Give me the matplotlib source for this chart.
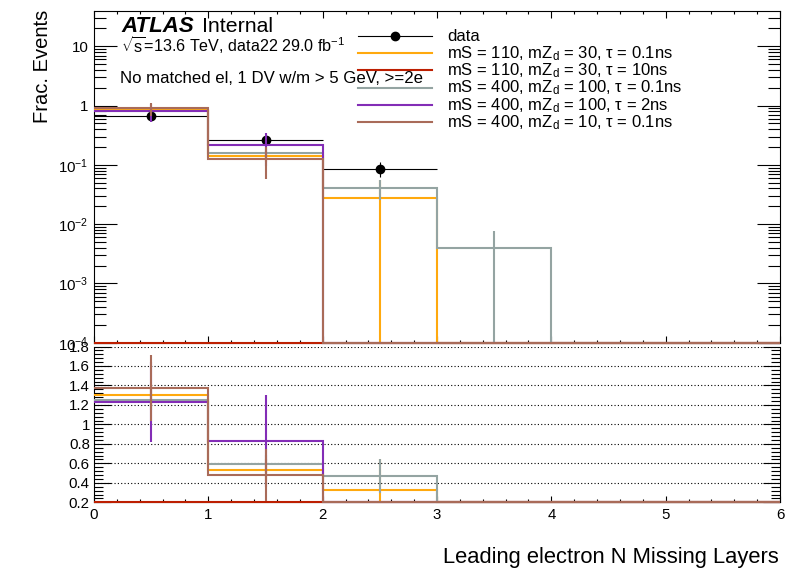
import numpy as np
import matplotlib
matplotlib.use('Agg')
import matplotlib.pyplot as plt
from matplotlib.ticker import FixedLocator, NullFormatter, MultipleLocator, FuncFormatter
from matplotlib.lines import Line2D

plt.rcParams['font.family'] = ['Liberation Sans', 'DejaVu Sans']
plt.rcParams['mathtext.fontset'] = 'custom'
plt.rcParams['mathtext.rm'] = 'Liberation Sans'
plt.rcParams['mathtext.it'] = 'Liberation Sans:italic'
plt.rcParams['mathtext.bf'] = 'Liberation Sans:bold'

# ---------------- data ----------------
bin_edges = [0, 1, 2, 3, 4, 5, 6]
data_vals = [0.655, 0.265, 0.0865, 0.0, 0.0, 0.0]
data_errs = [0.064, 0.041, 0.0235, 0.0, 0.0, 0.0]

sig_labels = [
    r'mS = 110, mZ$_\mathrm{d}$ = 30, τ = 0.1ns',
    r'mS = 110, mZ$_\mathrm{d}$ = 30, τ = 10ns',
    r'mS = 400, mZ$_\mathrm{d}$ = 100, τ = 0.1ns',
    r'mS = 400, mZ$_\mathrm{d}$ = 100, τ = 2ns',
    r'mS = 400, mZ$_\mathrm{d}$ = 10, τ = 0.1ns',
]
sig_colors = ['#ffa90e', '#bd1f01', '#94a4a2', '#832db6', '#a96b59']

s110_30_01_vals = [0.85, 0.14, 0.028, 0.0, 0.0, 0.0]
s110_30_01_errs = [0.08, 0.03, 0.028, 0.0, 0.0, 0.0]
s110_30_10_vals = [0.0, 0.0, 0.0, 0.0, 0.0, 0.0]
s110_30_10_errs = [0.0, 0.0, 0.0, 0.0, 0.0, 0.0]
s400_100_01_vals = [0.822, 0.157, 0.0405, 0.0039, 0.0, 0.0]
s400_100_01_errs = [0.07, 0.025, 0.015, 0.0039, 0.0, 0.0]
s400_100_2_vals = [0.805, 0.22, 0.0, 0.0, 0.0, 0.0]
s400_100_2_errs = [0.27, 0.126, 0.0, 0.0, 0.0, 0.0]
s400_10_01_vals = [0.9, 0.127, 0.0, 0.0, 0.0, 0.0]
s400_10_01_errs = [0.22, 0.07, 0.0, 0.0, 0.0, 0.0]

sig_vals = [s110_30_01_vals, s110_30_10_vals, s400_100_01_vals, s400_100_2_vals, s400_10_01_vals]
sig_errs = [s110_30_01_errs, s110_30_10_errs, s400_100_01_errs, s400_100_2_errs, s400_10_01_errs]

upper_yticks = [1e-4, 1e-3, 1e-2, 1e-1, 1, 10]
upper_yticklabels = [r'10$^{-4}$', r'10$^{-3}$', r'10$^{-2}$', r'10$^{-1}$', '1', '10']

# ---------------- layout ----------------
W, H = 796, 572
fig = plt.figure(figsize=(W / 100, H / 100), dpi=100)

def fx(px):
    return px / W

def fy(py):
    return 1 - py / H

left, right = 94, 780
up_top, up_bot = 11.3, 342.7
lo_top, lo_bot = 346.5, 502.3

ax = fig.add_axes([fx(left), fy(up_bot), fx(right - left), (up_bot - up_top) / H])
ax2 = fig.add_axes([fx(left), fy(lo_bot), fx(right - left), (lo_bot - lo_top) / H])

edges = np.array(bin_edges, dtype=float)
centers = 0.5 * (edges[:-1] + edges[1:])
halfw = 0.5 * (edges[1:] - edges[:-1])
dv = np.array(data_vals)
de = np.array(data_errs)

ymin, ymax = 1e-4, 39.0
rmin, rmax = 0.2, 1.8
lw_h = 1.5

# ---------------- upper panel ----------------
m = dv > 0
ax.errorbar(centers[m], dv[m], xerr=halfw[m], yerr=de[m], fmt='o', color='black',
            markersize=6, elinewidth=0.8, capsize=0, zorder=2)

for k, (vals, errs, col) in enumerate(zip(sig_vals, sig_errs, sig_colors)):
    v = np.array(vals)
    e = np.array(errs)
    ax.stairs(np.maximum(v, ymin), edges, color=col, linewidth=lw_h, baseline=None,
              zorder=3 + k, clip_on=False)
    mm = (v > 0) & (e > 0)
    if mm.any():
        ax.vlines(centers[mm], np.maximum(v[mm] - e[mm], ymin), v[mm] + e[mm],
                  color=col, linewidth=lw_h, zorder=3 + k)

ax.set_yscale('log')
ax.set_xlim(0, 6)
ax.set_ylim(ymin, ymax)
ax.yaxis.set_major_locator(FixedLocator(upper_yticks))
ax.set_yticklabels(upper_yticklabels)
minors = [s * 10.0 ** p for p in range(-4, 2) for s in range(2, 10) if s * 10.0 ** p < ymax]
ax.yaxis.set_minor_locator(FixedLocator(minors))
ax.yaxis.set_minor_formatter(NullFormatter())
ax.xaxis.set_major_locator(MultipleLocator(1))
ax.xaxis.set_minor_locator(MultipleLocator(0.2))
ax.xaxis.set_major_formatter(NullFormatter())
ax.tick_params(which='both', direction='in', top=True, right=True, width=0.8)
ax.tick_params(axis='y', which='major', length=16.5, labelsize=10.8, pad=4)
ax.tick_params(axis='y', which='minor', length=8.6)
ax.tick_params(axis='x', which='major', length=5)
ax.tick_params(axis='x', which='minor', length=2.5)
for sp in ax.spines.values():
    sp.set_linewidth(0.8)

# ---------------- ratio panel ----------------
for k, (vals, errs, col) in enumerate(zip(sig_vals, sig_errs, sig_colors)):
    v = np.array(vals)
    e = np.array(errs)
    r = np.where(dv > 0, v / np.where(dv > 0, dv, 1), 0.0)
    re = np.where((dv > 0) & (v > 0), e / np.where(dv > 0, dv, 1), 0.0)
    ax2.stairs(np.clip(r, rmin, rmax), edges, color=col, linewidth=lw_h, baseline=None,
               zorder=3 + k, clip_on=False)
    mm = (r > 0) & (re > 0)
    if mm.any():
        ax2.vlines(centers[mm], np.maximum(r[mm] - re[mm], rmin), np.minimum(r[mm] + re[mm], rmax),
                   color=col, linewidth=lw_h, zorder=3 + k)

ax2.set_xlim(0, 6)
ax2.set_ylim(rmin, rmax)
ax2.yaxis.set_major_locator(MultipleLocator(0.2))
ax2.yaxis.set_minor_locator(MultipleLocator(0.04))
ax2.yaxis.set_major_formatter(FuncFormatter(lambda y, p: f'{y:g}'))
ax2.xaxis.set_major_locator(MultipleLocator(1))
ax2.xaxis.set_minor_locator(MultipleLocator(0.2))
ax2.set_axisbelow(True)
ax2.yaxis.grid(True, which='major', linestyle=(0, (1, 2)), color='black', linewidth=0.8)
ax2.tick_params(which='both', direction='in', top=False, right=True, width=0.8)
ax2.tick_params(axis='y', which='major', length=12.2, labelsize=10.8, pad=3)
ax2.tick_params(axis='y', which='minor', length=6.5)
ax2.tick_params(axis='x', which='major', length=4.3, labelsize=10.8, pad=4)
ax2.tick_params(axis='x', which='minor', length=2.2)
ax2.spines['top'].set_visible(False)
for sp in ax2.spines.values():
    sp.set_linewidth(0.8)

# ---------------- texts ----------------
fig.text(fx(121), fy(31.7), 'ATLAS', fontsize=16, fontweight='bold', fontstyle='italic', va='baseline')
fig.text(fx(201.5), fy(31.7), 'Internal', fontsize=15.3, va='baseline')
fig.text(fx(121), fy(51.7), r'$\sqrt{\mathrm{s}}$=13.6 TeV, data22 29.0 fb$^{-1}$', fontsize=11.6, va='baseline')
fig.text(fx(120), fy(83.3), 'No matched el, 1 DV w/m > 5 GeV, >=2e', fontsize=12.1, va='baseline')

fig.text(fx(42), fy(10), 'Frac. Events', fontsize=14.5, rotation=90, ha='center', va='top')
fig.text(fx(779), fy(563.3), 'Leading electron N Missing Layers', fontsize=15.8, ha='right', va='baseline')

# ---------------- legend ----------------
leg_labels = ['data'] + sig_labels
leg_colors = ['black'] + sig_colors
y0, dy = 36.0, 17.2
for i, (lab, col) in enumerate(zip(leg_labels, leg_colors)):
    yc = y0 + i * dy
    if i == 0:
        fig.add_artist(Line2D([fx(358), fx(432)], [fy(yc), fy(yc)], color='black', linewidth=0.8))
        fig.add_artist(Line2D([fx(395)], [fy(yc)], color='black', marker='o', markersize=6, linestyle='none'))
    else:
        fig.add_artist(Line2D([fx(358), fx(432)], [fy(yc), fy(yc)], color=col, linewidth=lw_h))
    fig.text(fx(447), fy(yc + 5.0), lab, fontsize=12, va='baseline')

fig.savefig('out.png', dpi=100)
